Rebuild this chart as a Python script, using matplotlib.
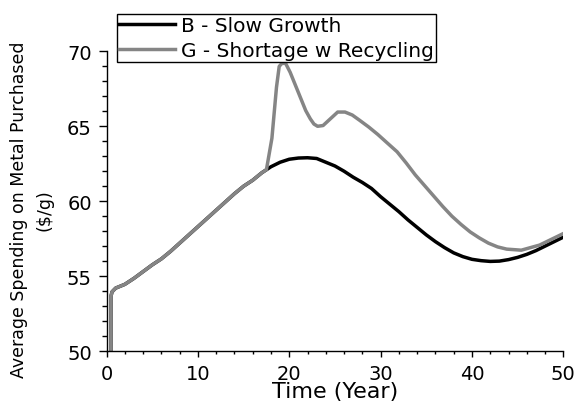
import matplotlib
matplotlib.use("Agg")
import matplotlib.pyplot as plt
from matplotlib.ticker import MultipleLocator

plt.rcParams["font.family"] = ["DejaVu Sans"]

# Scenario B - slow growth
years_b = [0.5, 0.5, 0.6, 1.0, 2.0, 3.0, 4.0, 5.0, 6.0, 7.0, 8.0, 9.0, 10.0,
           11.0, 12.0, 13.0, 14.0, 15.0, 16.0, 17.0, 18.0, 19.0, 20.0, 21.0,
           22.0, 23.0, 24.0, 25.0, 26.0, 27.0, 28.0, 29.0, 30.0, 31.0, 32.0,
           33.0, 34.0, 35.0, 36.0, 37.0, 38.0, 39.0, 40.0, 41.0, 42.0, 43.0,
           44.0, 45.0, 46.0, 47.0, 48.0, 49.0, 50.0]
spend_b = [50.0, 53.7, 53.95, 54.2, 54.45, 54.85, 55.3, 55.75, 56.15, 56.65,
           57.2, 57.75, 58.3, 58.85, 59.4, 59.95, 60.5, 61.0, 61.4, 61.9, 62.3,
           62.6, 62.8, 62.88, 62.9, 62.85, 62.6, 62.35, 62.0, 61.6, 61.25,
           60.85, 60.3, 59.8, 59.3, 58.75, 58.25, 57.75, 57.3, 56.9, 56.55,
           56.3, 56.12, 56.03, 55.98, 56.0, 56.1, 56.25, 56.45, 56.7, 57.0,
           57.3, 57.6]

# Scenario G - shortage with recycling (same path as B until year 17)
years_g = years_b[:20] + [17.5, 18.1, 18.6, 18.9, 19.2, 19.6, 20.1, 20.7, 21.3,
                          21.8, 22.3, 22.7, 23.1, 23.7, 24.5, 25.3, 26.1, 26.9,
                          27.7, 28.7, 29.7, 30.7, 31.8, 32.8, 33.8, 34.8, 35.8,
                          36.8, 37.8, 38.8, 39.8, 40.8, 41.8, 42.8, 43.8, 45.4,
                          47.4, 50.0]
spend_g = spend_b[:20] + [62.1, 64.2, 67.6, 69.0, 69.2, 69.2, 68.6, 67.7, 66.8,
                          66.05, 65.5, 65.15, 65.0, 65.05, 65.5, 65.95, 65.95,
                          65.75, 65.4, 64.95, 64.45, 63.9, 63.3, 62.55, 61.75,
                          61.05, 60.35, 59.65, 59.0, 58.45, 57.95, 57.55, 57.2,
                          56.95, 56.8, 56.73, 57.07, 57.84]

fig = plt.figure(figsize=(5.76, 4.06), dpi=100)
ax = fig.add_axes([0.185, 0.133, 0.793, 0.738])

ax.plot(years_b, spend_b, color="black", lw=2.5, label="B - Slow Growth")
ax.plot(years_g, spend_g, color="#858585", lw=2.5, label="G - Shortage w Recycling")

ax.set_xlim(0, 50)
ax.set_ylim(50, 70)
ax.xaxis.set_major_locator(MultipleLocator(10))
ax.xaxis.set_minor_locator(MultipleLocator(2))
ax.yaxis.set_major_locator(MultipleLocator(5))
ax.yaxis.set_minor_locator(MultipleLocator(1))

for side in ["top", "right"]:
    ax.spines[side].set_visible(False)
for side in ["left", "bottom"]:
    ax.spines[side].set_linewidth(1.0)

ax.tick_params(axis="x", which="major", direction="out", length=4, width=1,
               pad=5, labelsize=14)
ax.tick_params(axis="x", which="minor", direction="out", length=2.5, width=1)
ax.tick_params(axis="y", which="major", direction="out", length=5.5, width=1,
               pad=5, labelsize=14)
ax.tick_params(axis="y", which="minor", direction="out", length=3.5, width=1)

ax.set_xlabel("Time (Year)", fontsize=16, labelpad=-1)
fig.text(32 / 576, 1 - 210 / 406, "Average Spending on Metal Purchased\n($/g)",
         rotation=90, ha="center", va="center", fontsize=12.5,
         multialignment="center", linespacing=1.5)

leg = fig.legend(loc="upper left", bbox_to_anchor=(117 / 576, 1 - 15 / 406),
                 fontsize=14.5, frameon=True, fancybox=False, framealpha=1,
                 edgecolor="black", handlelength=2.8, handletextpad=0.3,
                 borderpad=0.1, borderaxespad=0, labelspacing=0.3)
leg.get_frame().set_linewidth(1.0)

fig.savefig("out.png", dpi=100)
